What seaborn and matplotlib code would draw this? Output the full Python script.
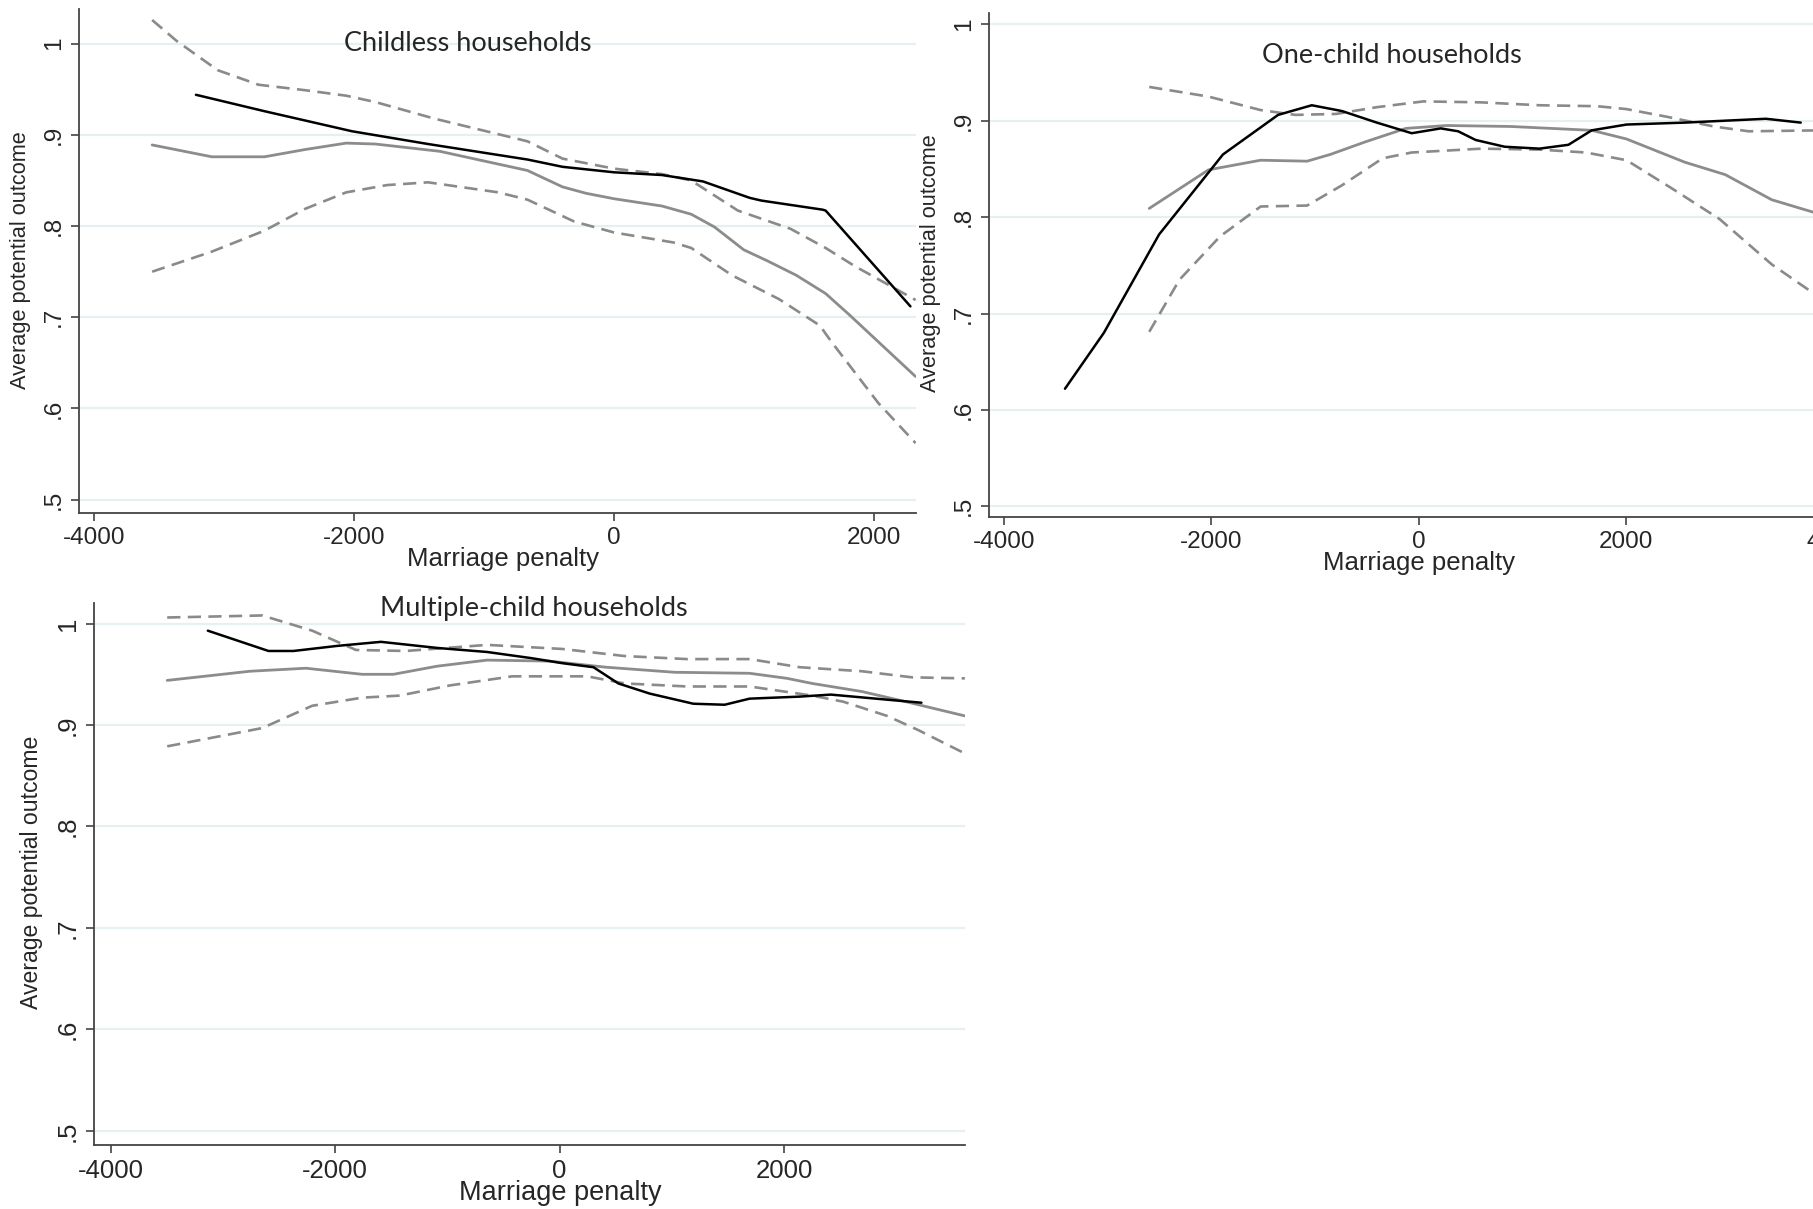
import numpy as np
import pandas as pd
import matplotlib
matplotlib.use("Agg")
import matplotlib.pyplot as plt
import seaborn as sns

# values (x = marriage penalty, y = average potential outcome)
# childless households
childless_obs_x = [-3216, -2689, -2015, -1430, -666, -396, 0, 369, 684, 1043, 1133, 1605, 1628, 2280]
childless_obs_y = [0.944, 0.926, 0.904, 0.890, 0.873, 0.865, 0.859, 0.856, 0.849, 0.831, 0.828, 0.818, 0.817, 0.712]
childless_fit_x = [-3553, -3094, -2689, -2375, -2060, -1835, -1340, -666, -396, -216, 0, 369, 594, 773, 998, 1178, 1403, 1628, 1808, 2320]
childless_fit_y = [0.889, 0.876, 0.876, 0.884, 0.891, 0.890, 0.882, 0.861, 0.843, 0.836, 0.830, 0.822, 0.813, 0.799, 0.774, 0.762, 0.746, 0.726, 0.703, 0.635]
childless_hi_x = [-3553, -3364, -3049, -2734, -2375, -2060, -1835, -1385, -666, -396, 0, 369, 594, 953, 1358, 1628, 1853, 2320]
childless_hi_y = [1.026, 1.003, 0.971, 0.955, 0.949, 0.943, 0.936, 0.918, 0.893, 0.874, 0.863, 0.857, 0.850, 0.817, 0.797, 0.776, 0.756, 0.719]
childless_lo_x = [-3553, -3094, -2689, -2375, -2060, -1745, -1430, -891, -666, -306, 0, 459, 594, 908, 1268, 1583, 1673, 2033, 2320]
childless_lo_y = [0.750, 0.772, 0.795, 0.819, 0.837, 0.845, 0.848, 0.837, 0.829, 0.805, 0.793, 0.782, 0.776, 0.746, 0.720, 0.691, 0.673, 0.606, 0.562]

# one-child households
onechild_obs_x = [-3409, -3034, -2502, -1886, -1355, -1030, -739, -403, -67, 213, 381, 549, 828, 1164, 1444, 1668, 2004, 2564, 2956, 3347, 3683]
onechild_obs_y = [0.622, 0.680, 0.782, 0.865, 0.906, 0.916, 0.910, 0.898, 0.887, 0.892, 0.889, 0.880, 0.873, 0.871, 0.875, 0.890, 0.896, 0.898, 0.900, 0.902, 0.898]
onechild_fit_x = [-2597, -2026, -1523, -1075, -851, -515, -123, 269, 884, 1668, 2004, 2564, 2956, 3403, 3900]
onechild_fit_y = [0.809, 0.849, 0.859, 0.858, 0.865, 0.878, 0.892, 0.895, 0.894, 0.890, 0.881, 0.857, 0.844, 0.818, 0.802]
onechild_hi_x = [-2597, -2026, -1523, -1187, -795, -403, 45, 605, 1164, 1724, 2004, 2396, 2844, 3180, 3900]
onechild_hi_y = [0.935, 0.925, 0.911, 0.906, 0.907, 0.914, 0.920, 0.919, 0.916, 0.915, 0.912, 0.904, 0.894, 0.889, 0.890]
onechild_lo_x = [-2597, -2306, -1914, -1523, -1075, -739, -347, -67, 605, 1164, 1612, 2004, 2452, 2900, 3403, 3900]
onechild_lo_y = [0.681, 0.735, 0.780, 0.811, 0.812, 0.833, 0.861, 0.867, 0.871, 0.870, 0.867, 0.859, 0.829, 0.798, 0.751, 0.714]

# multiple-child households
multi_obs_x = [-3134, -2594, -2371, -1982, -1592, -1091, -646, -256, 22, 301, 523, 802, 1191, 1470, 1692, 2137, 2416, 2917, 3223]
multi_obs_y = [0.993, 0.973, 0.973, 0.978, 0.982, 0.976, 0.972, 0.966, 0.961, 0.957, 0.941, 0.931, 0.921, 0.920, 0.926, 0.928, 0.930, 0.925, 0.922]
multi_fit_x = [-3496, -2761, -2260, -1759, -1481, -1091, -646, -89, 412, 1024, 1692, 2026, 2249, 2694, 3084, 3610]
multi_fit_y = [0.944, 0.953, 0.956, 0.950, 0.950, 0.958, 0.964, 0.963, 0.957, 0.952, 0.951, 0.946, 0.941, 0.933, 0.923, 0.909]
multi_hi_x = [-3496, -2650, -2204, -1815, -1370, -646, 22, 579, 1136, 1692, 2137, 2694, 3140, 3610]
multi_hi_y = [1.006, 1.008, 0.993, 0.974, 0.973, 0.979, 0.975, 0.968, 0.965, 0.965, 0.957, 0.953, 0.947, 0.946]
multi_lo_x = [-3496, -2650, -2204, -1759, -1425, -980, -423, 245, 579, 1136, 1692, 2249, 2527, 2917, 3195, 3610]
multi_lo_y = [0.879, 0.897, 0.919, 0.927, 0.929, 0.939, 0.948, 0.948, 0.941, 0.938, 0.938, 0.929, 0.923, 0.909, 0.895, 0.872]

y_ticks = [0.5, 0.6, 0.7, 0.8, 0.9, 1.0]
y_ticklabels = [".5", ".6", ".7", ".8", ".9", "1"]

sns.set_style("white")
plt.rcParams["font.family"] = ["Liberation Sans", "DejaVu Sans"]
title_font = ["Lato", "Liberation Sans", "DejaVu Sans"]

GRAY = "#8c8c8c"
DASH = "#8a8a8a"

fig = plt.figure(figsize=(18.13, 12.09), dpi=100)

panels = [
    dict(rect=[0.0434, 0.5754, 0.4617, 0.4171], xlim=(-4118, 2321), ylim=(0.485, 1.038),
         xticks=[-4000, -2000, 0, 2000], title="Childless households", title_xy=(-1123, 1.0),
         xlab=(0.507, -0.0896), ylab=(-0.0692, 0.502), fs=17.5, xlfs=18.5, ylfs=15.7,
         obs=(childless_obs_x, childless_obs_y), fit=(childless_fit_x, childless_fit_y),
         hi=(childless_hi_x, childless_hi_y), lo=(childless_lo_x, childless_lo_y)),
    dict(rect=[0.5453, 0.5724, 0.4718, 0.4171], xlim=(-4145, 4100), ylim=(0.489, 1.012),
         xticks=[-4000, -2000, 0, 2000, 4000], title="One-child households", title_xy=(-258, 0.968),
         xlab=(0.503, -0.0912), ylab=(-0.0677, 0.5025), fs=17.5, xlfs=18.5, ylfs=15.7,
         obs=(onechild_obs_x, onechild_obs_y), fit=(onechild_fit_x, onechild_fit_y),
         hi=(onechild_hi_x, onechild_hi_y), lo=(onechild_lo_x, onechild_lo_y)),
    dict(rect=[0.0518, 0.0529, 0.4804, 0.4481], xlim=(-4149, 3610), ylim=(0.486, 1.020),
         xticks=[-4000, -2000, 0, 2000], title="Multiple-child households", title_xy=(-229, 1.015),
         xlab=(0.536, -0.0886), ylab=(-0.0721, 0.504), fs=18.5, xlfs=19.5, ylfs=16.6,
         obs=(multi_obs_x, multi_obs_y), fit=(multi_fit_x, multi_fit_y),
         hi=(multi_hi_x, multi_hi_y), lo=(multi_lo_x, multi_lo_y)),
]

for p in panels:
    ax = fig.add_axes(p["rect"])
    ax.set_xlim(*p["xlim"])
    ax.set_ylim(*p["ylim"])

    # grid first so the curves sit on top
    for yv in y_ticks:
        ax.axhline(yv, color="#e6eff1", lw=1.6, zorder=0)

    sns.lineplot(x=p["hi"][0], y=p["hi"][1], ax=ax, color=DASH, lw=1.9,
                 linestyle=(0, (5.0, 2.8)), sort=False, estimator=None)
    sns.lineplot(x=p["lo"][0], y=p["lo"][1], ax=ax, color=DASH, lw=1.9,
                 linestyle=(0, (5.0, 2.8)), sort=False, estimator=None)
    sns.lineplot(x=p["fit"][0], y=p["fit"][1], ax=ax, color=GRAY, lw=2.0,
                 sort=False, estimator=None)
    sns.lineplot(x=p["obs"][0], y=p["obs"][1], ax=ax, color="black", lw=1.8,
                 sort=False, estimator=None)

    ax.set_yticks(y_ticks)
    ax.set_yticklabels(y_ticklabels, rotation=90, va="center")
    ax.set_xticks(p["xticks"])
    ax.set_xticklabels([str(t) for t in p["xticks"]])
    ax.tick_params(axis="both", direction="out", length=6, width=1.2, color="#444444",
                   labelsize=p["fs"], pad=4, bottom=True, left=True)

    for side in ["top", "right"]:
        ax.spines[side].set_visible(False)
    for side in ["left", "bottom"]:
        ax.spines[side].set_color("#444444")
        ax.spines[side].set_linewidth(1.3)

    ax.set_xlabel("Marriage penalty", fontsize=p["xlfs"], va="center")
    ax.xaxis.set_label_coords(*p["xlab"])
    ax.set_ylabel("Average potential outcome", fontsize=p["ylfs"], va="center")
    ax.yaxis.set_label_coords(*p["ylab"])

    ax.text(p["title_xy"][0], p["title_xy"][1], p["title"], ha="center", va="center",
            fontsize=19.5, family=title_font)

fig.savefig("out.png", dpi=100)
